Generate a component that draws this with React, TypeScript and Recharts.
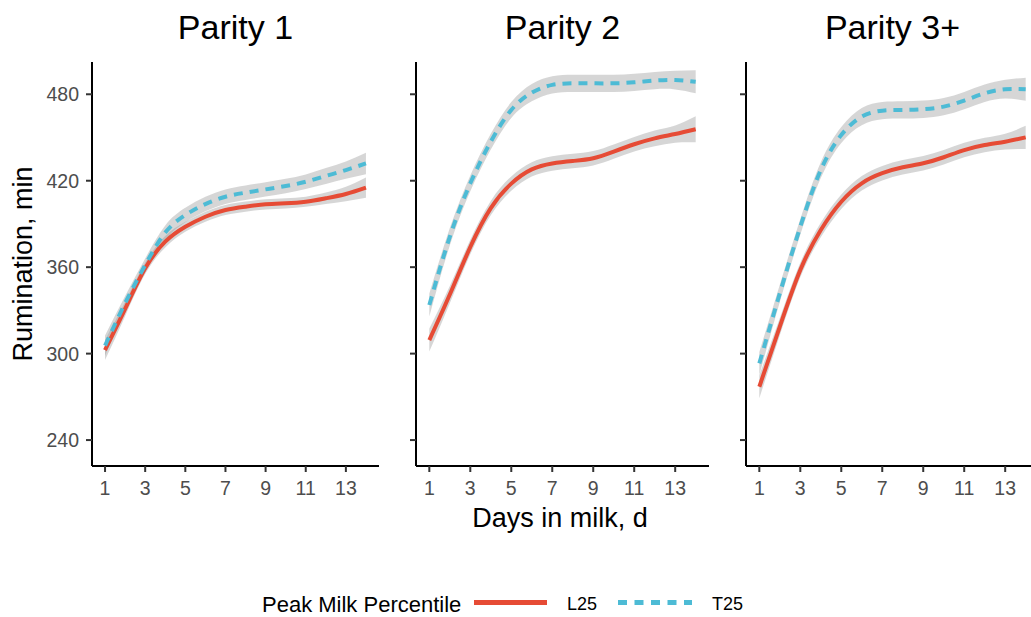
import React from 'react';
import { ComposedChart, Area, Line, XAxis, YAxis } from 'recharts';

const days = [1, 2, 3, 4, 5, 6, 7, 8, 9, 10, 11, 12, 13, 14];
const xTicks = [1, 3, 5, 7, 9, 11, 13];
const yTicks = [240, 300, 360, 420, 480];
const panelTitles = ['Parity 1', 'Parity 2', 'Parity 3+'];

// smoothed rumination (min) per day
const p1L25 = [302.5, 331, 359.2, 377.7, 388, 395, 399.7, 402, 403.6, 404.3, 405.4, 407.8, 410.8, 415.2];
const p1T25 = [305.5, 335, 361.5, 384, 396.2, 403.8, 408.9, 411.7, 414, 416.3, 419.3, 423.3, 427.4, 432];
const p2L25 = [309.4, 341, 374, 401, 418, 427.9, 432, 433.7, 435.6, 440.2, 445.3, 449.4, 452.4, 455.7];
const p2T25 = [333.7, 381.1, 418.2, 447.1, 469.1, 481.1, 486.5, 487.6, 487.6, 487.6, 488.3, 489.5, 489.9, 488.7];
const p3L25 = [277, 318.7, 358, 385.8, 405.4, 418.2, 425.2, 429.3, 432.1, 436.3, 441.3, 444.8, 447.1, 450.1];
const p3T25 = [293.2, 341.8, 388, 427.4, 451.7, 464.5, 468.6, 469.1, 469.6, 471.4, 475.6, 480.7, 483.5, 483.5];

// half-width of the grey confidence band
const p1L25Ci = [7, 5, 4, 4, 3.5, 3.5, 3.5, 3.5, 3.5, 3.5, 3.5, 4, 5, 7];
const p1T25Ci = [7, 5, 4.5, 5, 5, 5, 5, 5, 5, 5, 5, 5.5, 6, 7.5];
const p2L25Ci = [8, 6, 5, 5, 5, 5, 5, 5, 5, 5, 5, 5.5, 6, 9];
const p2T25Ci = [8, 6, 5.5, 5.5, 5.5, 6, 6, 6, 6, 6, 6, 6, 6.5, 8];
const p3L25Ci = [8, 6, 5, 5, 5, 5, 5, 5, 5, 5, 5, 5, 5.5, 8];
const p3T25Ci = [8, 6, 5.5, 5.5, 5.5, 6, 6, 6, 6, 6, 6, 6, 6.5, 8];

const RED = '#E64B35';
const BLUE = '#4DBBD5';
const FONT = '"Liberation Sans", Arial, sans-serif';

function buildRows(l25: number[], t25: number[], l25Ci: number[], t25Ci: number[]) {
    return days.map((d, i) => ({
        day: d,
        l25: l25[i],
        t25: t25[i],
        l25Band: [l25[i] - l25Ci[i], l25[i] + l25Ci[i]],
        t25Band: [t25[i] - t25Ci[i], t25[i] + t25Ci[i]],
    }));
}

const panels = [
    { rows: buildRows(p1L25, p1T25, p1L25Ci, p1T25Ci), left: 0, axisW: 92, plotW: 287, labels: true },
    { rows: buildRows(p2L25, p2T25, p2L25Ci, p2T25Ci), left: 400, axisW: 16, plotW: 293, labels: false },
    { rows: buildRows(p3L25, p3T25, p3L25Ci, p3T25Ci), left: 730, axisW: 16, plotW: 293, labels: false },
];

function Panel({ rows, axisW, plotW, labels }: { rows: any[]; axisW: number; plotW: number; labels: boolean }) {
    return (
        <ComposedChart width={axisW + plotW} height={500} data={rows}
            margin={{ top: 62, right: 0, bottom: 0, left: 0 }} style={{ fontFamily: FONT }}>
            <XAxis dataKey="day" type="number" domain={[0.35, 14.65]} ticks={xTicks} allowDataOverflow
                height={34} tickSize={6} tickMargin={9}
                axisLine={{ stroke: '#000', strokeWidth: 2 }} tickLine={{ stroke: '#333', strokeWidth: 2 }}
                tick={{ fontSize: 19.5, fill: '#4D4D4D' }} />
            <YAxis type="number" domain={[222, 502.4]} ticks={yTicks} allowDataOverflow
                width={axisW} tickSize={6} tickMargin={7}
                axisLine={{ stroke: '#000', strokeWidth: 2 }} tickLine={{ stroke: '#333', strokeWidth: 2 }}
                tickFormatter={(v: number) => (labels ? String(v) : '')}
                tick={{ fontSize: 19.5, fill: '#4D4D4D' }} />
            <Area dataKey="l25Band" type="natural" stroke="none" fill="#999999" fillOpacity={0.4} isAnimationActive={false} />
            <Line dataKey="l25" type="natural" stroke={RED} strokeWidth={4} dot={false} isAnimationActive={false} />
            <Area dataKey="t25Band" type="natural" stroke="none" fill="#999999" fillOpacity={0.4} isAnimationActive={false} />
            <Line dataKey="t25" type="natural" stroke={BLUE} strokeWidth={4} strokeDasharray="9 7" dot={false} isAnimationActive={false} />
        </ComposedChart>
    );
}

export default function App() {
    const centers = panels.map(p => p.left + p.axisW + p.plotW / 2);
    return (
        <div style={{ position: 'absolute', left: 0, top: 0, width: 1031, height: 617, overflow: 'hidden', background: '#fff', fontFamily: FONT }}>
            {panels.map((p, i) => (
                <div key={i} style={{ position: 'absolute', left: p.left, top: 0 }}>
                    <Panel rows={p.rows} axisW={p.axisW} plotW={p.plotW} labels={p.labels} />
                </div>
            ))}
            <svg width={1031} height={617} style={{ position: 'absolute', left: 0, top: 0, pointerEvents: 'none' }}>
                {panelTitles.map((t, i) => (
                    <text key={t} x={centers[i]} y={39} textAnchor="middle" fontSize={34} fill="#000" fontFamily={FONT}>{t}</text>
                ))}
                <text x={560} y={527} textAnchor="middle" fontSize={27} fill="#000" fontFamily={FONT}>Days in milk, d</text>
                <text transform="translate(32,264) rotate(-90)" textAnchor="middle" fontSize={27} fill="#000" fontFamily={FONT}>Rumination, min</text>
                <text x={262} y={611.5} fontSize={22} fill="#000" fontFamily={FONT}>Peak Milk Percentile</text>
                <line x1={474} x2={547} y1={602.5} y2={602.5} stroke={RED} strokeWidth={5} />
                <text x={567} y={610} fontSize={18} fill="#000" fontFamily={FONT}>L25</text>
                <line x1={618} x2={692} y1={602.5} y2={602.5} stroke={BLUE} strokeWidth={5} strokeDasharray="9 7.5" />
                <text x={712} y={610} fontSize={18} fill="#000" fontFamily={FONT}>T25</text>
            </svg>
        </div>
    );
}
